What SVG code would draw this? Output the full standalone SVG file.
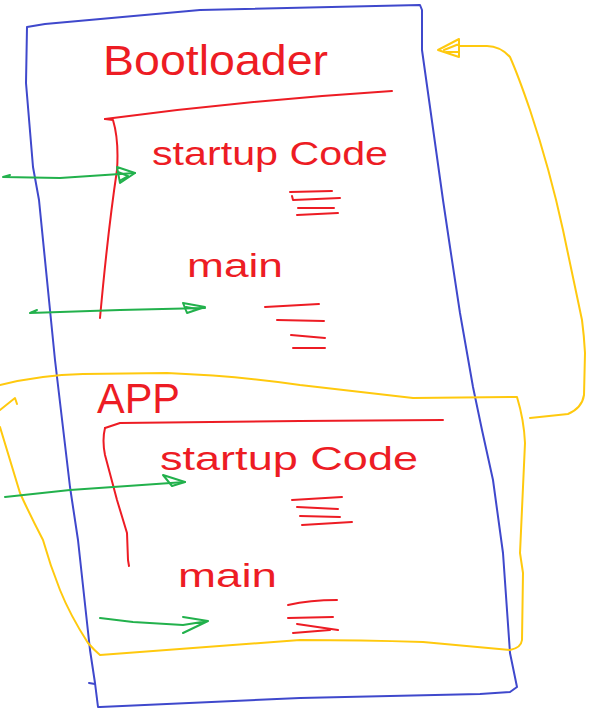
<svg xmlns="http://www.w3.org/2000/svg" width="599" height="714" viewBox="0 0 599 714">
<style>
.blue{fill:none;stroke:#3F48CC;stroke-width:2;stroke-linejoin:round;stroke-linecap:round}
.yel{fill:none;stroke:#FFC90E;stroke-width:2;stroke-linejoin:round;stroke-linecap:round}
.red{fill:none;stroke:#ED1C24;stroke-width:2;stroke-linejoin:round;stroke-linecap:round}
.grn{fill:none;stroke:#22B14C;stroke-width:2;stroke-linejoin:round;stroke-linecap:round}
.lbl{fill:#ED1C24;font-family:"Liberation Sans","DejaVu Sans",sans-serif;font-weight:normal}
</style>
<rect width="599" height="714" fill="#FFFFFF"/>
<g id="memory">
<path class="blue" d="M27,27 L45,24 L200,10 L420,5 L422,10 L422,50 L430,107 L443,200 L450,247 L460,313 L473,387 L482,430 L493,480 L503,553 L510,653 L517,687 L510,692 L480,694 L300,698 L100,707 L98,707 L95,683 L90,650 L78,540 L70,487 L55,360 L39,200 L33,167 L26,83 Z"/>
<path class="blue" d="M89,683 L95,684"/>
</g>
<g id="bootloader">
<text class="lbl" x="103" y="75" font-size="42" textLength="225" lengthAdjust="spacingAndGlyphs">Bootloader</text>
<path class="red" d="M105,119 Q250,100 392,91"/>
<path class="red" d="M105,119 L113,120 Q119,140 117,170 Q108,230 100,318"/>
</g>
<g id="bl-startup">
<text class="lbl" x="152" y="165" font-size="34" textLength="236" lengthAdjust="spacingAndGlyphs">startup Code</text>
<path class="red" d="M290,192 L332,191 M292,196 L293,200 L340,198 M298,208 L334,208 M297,215 L338,213"/>
</g>
<g id="bl-main">
<text class="lbl" x="187" y="277" font-size="34" textLength="96" lengthAdjust="spacingAndGlyphs">main</text>
<path class="red" d="M265,307 L319,304 M277,320 L324,321 M291,335 L325,338 M293,348 L325,348"/>
</g>
<g id="app">
<path class="yel" d="M0,385 Q40,375 83,374 L167,373 Q240,376 300,385 L413,398 L510,397 L517,397 Q524,420 525,443 L520,553 L523,573 L522,640 Q521,648 510,650 L423,642 Q360,640 300,640 L100,655 Q94,650 88,643 Q70,615 60,590 Q50,565 43,540 Q30,515 20,493 L0,427"/>
<path class="yel" d="M0,410 L15,398 L17,404"/>
<text class="lbl" x="97" y="413" font-size="42" textLength="83" lengthAdjust="spacingAndGlyphs">APP</text>
<path class="red" d="M105,428 L120,423 L300,421 L443,420"/>
<path class="red" d="M105,428 Q102,440 105,455 L117,500 L127,533 L128,560 L129,566"/>
</g>
<g id="app-startup">
<text class="lbl" x="160" y="470" font-size="34" textLength="258" lengthAdjust="spacingAndGlyphs">startup Code</text>
<path class="red" d="M292,500 L342,497 M297,507 L338,509 M300,516 L340,517 M302,525 L352,522"/>
</g>
<g id="app-main">
<text class="lbl" x="178" y="587" font-size="34" textLength="99" lengthAdjust="spacingAndGlyphs">main</text>
<path class="red" d="M288,605 Q310,600 337,600 M288,618 L333,617 M297,624 L338,630 M293,633 L330,630"/>
</g>
<g id="connectors">
<path class="grn" d="M3,177 L60,178 L135,173 M3,177 L10,175"/>
<path class="grn" d="M117,167 L135,173 L120,183 Z M118,172 L128,176 L121,180"/>
<path class="grn" d="M30,313 L120,310 L205,308 M30,313 L37,310"/>
<path class="grn" d="M183,303 L205,307 L187,313 Z M186,307 L197,309"/>
<path class="grn" d="M5,497 L70,490 L185,482"/>
<path class="grn" d="M163,475 L185,482 L172,486 Z"/>
<path class="grn" d="M100,618 L133,622 L183,625 L208,621 M183,617 L208,621 L183,633"/>
<path class="yel" d="M530,418 L568,414 Q582,408 584,395 L585,353 Q584,335 582,320 L563,230 Q550,170 530,110 Q518,75 510,57 Q500,46 487,46 L459,46"/>
<path class="yel" d="M438,50 L459,39 L459,57 Z M444,50 L459,44 M446,52 L459,52"/>
</g>
</svg>
